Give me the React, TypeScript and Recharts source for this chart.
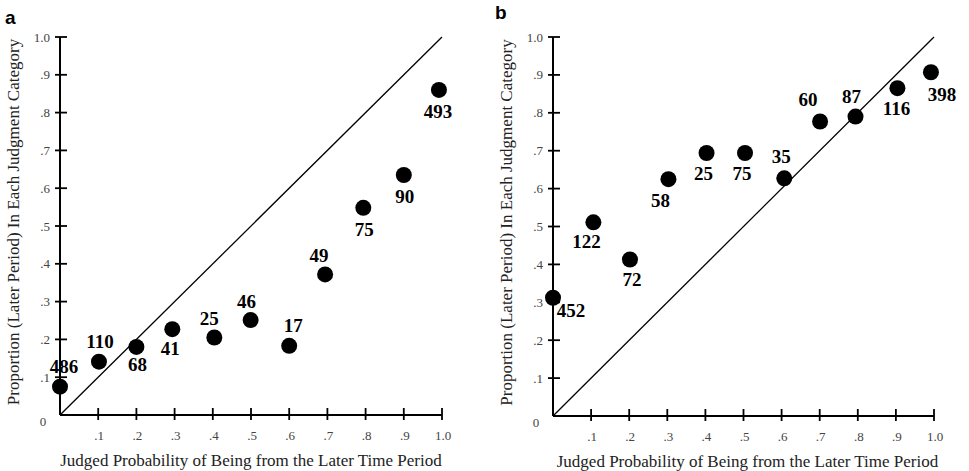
import { ScatterChart, Scatter, XAxis, YAxis, ReferenceLine, Label } from 'recharts';

// panel a
const leftX = [0, 0.102, 0.2, 0.294, 0.404, 0.499, 0.6, 0.694, 0.794, 0.9, 0.992];
const leftY = [0.075, 0.141, 0.18, 0.227, 0.205, 0.251, 0.183, 0.372, 0.548, 0.635, 0.86];
const leftN = [486, 110, 68, 41, 25, 46, 17, 49, 75, 90, 493];

// panel b
const rightX = [0, 0.106, 0.202, 0.303, 0.403, 0.504, 0.607, 0.701, 0.794, 0.904, 0.992];
const rightY = [0.312, 0.511, 0.413, 0.625, 0.694, 0.694, 0.627, 0.777, 0.79, 0.865, 0.907];
const rightN = [452, 122, 72, 58, 25, 75, 35, 60, 87, 116, 398];

const xTicks = [0.1, 0.2, 0.3, 0.4, 0.5, 0.6, 0.7, 0.8, 0.9, 1.0];
const yTicks = [0, 0.1, 0.2, 0.3, 0.4, 0.5, 0.6, 0.7, 0.8, 0.9, 1.0];

const xTitle = 'Judged Probability of Being from the Later Time Period';
const yTitle = 'Proportion (Later Period) In Each Judgment Category';

// where each count label sits relative to its dot
const leftLabelOffset = [
  [4, -20], [1, -20], [1, 18], [-2, 19], [-5, -19], [-4, -19],
  [4, -20], [-6, -19], [1, 22], [1, 22], [-1, 22],
];
const rightLabelOffset = [
  [18, 13], [-7, 19], [2, 20], [-8, 21], [-3, 21], [-3, 21],
  [-3, -22], [-12, -22], [-4, -20], [-1, 20], [11, 22],
];

const serif = '"Liberation Serif", "DejaVu Serif", serif';

const fmt = (v: number) => (v === 0 ? '0' : v === 1 ? '1.0' : '.' + Math.round(v * 10));

const XTick = (props: any) => {
  const { x, y, payload } = props;
  return (
    <g>
      <line x1={x} x2={x} y1={y + 5} y2={y - 7} stroke="#000" strokeWidth={1.8} />
      <text x={x + 1} y={y + 20} textAnchor="middle" dominantBaseline="central" fontFamily={serif} fontSize={13} fill="#444">
        {fmt(payload.value)}
      </text>
    </g>
  );
};

const YTick = (props: any) => {
  const { x, y, payload } = props;
  if (payload.value === 0) {
    return (
      <text x={x - 17} y={y + 6} textAnchor="middle" dominantBaseline="central" fontFamily={serif} fontSize={13} fill="#444">
        0
      </text>
    );
  }
  return (
    <g>
      <line x1={x - 5} x2={x + 7} y1={y} y2={y} stroke="#000" strokeWidth={1.8} />
      <text x={x - 10} y={y} textAnchor="end" dominantBaseline="central" fontFamily={serif} fontSize={13} fill="#444">
        {fmt(payload.value)}
      </text>
    </g>
  );
};

const Dot = (props: any) => {
  const { cx, cy, payload } = props;
  return (
    <g>
      <circle cx={cx} cy={cy} r={8} fill="#000" />
      <text
        x={cx + payload.dx}
        y={cy + payload.dy}
        textAnchor="middle"
        dominantBaseline="central"
        fontFamily={serif}
        fontWeight="bold"
        fontSize={19}
        fill="#000"
      >
        {payload.n}
      </text>
    </g>
  );
};

const build = (xs: number[], ys: number[], ns: number[], offs: number[][]) =>
  xs.map((x, i) => ({ x, y: ys[i], n: ns[i], dx: offs[i][0], dy: offs[i][1] }));

type PanelProps = {
  data: ReturnType<typeof build>;
  width: number;
  margin: { top: number; right: number; bottom: number; left: number };
  xTitleShift: number;
};

const Panel = ({ data, width, margin, xTitleShift }: PanelProps) => (
  <ScatterChart width={width} height={471} margin={margin}>
    <XAxis
      type="number"
      dataKey="x"
      domain={[0, 1]}
      ticks={xTicks}
      interval={0}
      height={1}
      tickSize={0}
      tickMargin={0}
      tick={<XTick />}
      axisLine={{ stroke: '#000', strokeWidth: 2 }}
      tickLine={false}
    >
      <Label
        content={(p: any) => {
          const vb = p.viewBox;
          return (
            <text x={vb.x + vb.width / 2 + xTitleShift} y={vb.y + 45} textAnchor="middle" dominantBaseline="central" fontFamily={serif} fontSize={17} fill="#222">
              {xTitle}
            </text>
          );
        }}
      />
    </XAxis>
    <YAxis
      type="number"
      dataKey="y"
      domain={[0, 1]}
      ticks={yTicks}
      interval={0}
      width={1}
      tickSize={0}
      tickMargin={0}
      tick={<YTick />}
      axisLine={{ stroke: '#000', strokeWidth: 2 }}
      tickLine={false}
    >
      <Label
        content={(p: any) => {
          const vb = p.viewBox;
          const cx = vb.x + vb.width - 47;
          const cy = vb.y + vb.height / 2 - 4;
          return (
            <text x={cx} y={cy} transform={`rotate(-90 ${cx} ${cy})`} textAnchor="middle" dominantBaseline="central" fontFamily={serif} fontSize={17} fill="#222">
              {yTitle}
            </text>
          );
        }}
      />
    </YAxis>
    <ReferenceLine segment={[{ x: 0, y: 0 }, { x: 0, y: 1 }]} stroke="#000" strokeWidth={2} />
    <ReferenceLine segment={[{ x: 0, y: 0 }, { x: 1, y: 0 }]} stroke="#000" strokeWidth={2} />
    <ReferenceLine segment={[{ x: 0, y: 0 }, { x: 1, y: 1 }]} stroke="#000" strokeWidth={1.3} />
    <Scatter data={data} shape={<Dot />} isAnimationActive={false} />
  </ScatterChart>
);

const letterStyle: React.CSSProperties = {
  position: 'absolute',
  fontFamily: '"Liberation Sans", Arial, sans-serif',
  fontWeight: 'bold',
  fontSize: 19,
  lineHeight: '19px',
};

export default function App() {
  return (
    <div style={{ position: 'absolute', left: 0, top: 0, width: 969, height: 471, background: '#fff' }}>
      <div style={{ position: 'absolute', left: 0, top: 0 }}>
        <Panel
          data={build(leftX, leftY, leftN, leftLabelOffset)}
          width={485}
          margin={{ top: 37, right: 43, bottom: 55, left: 59 }}
          xTitleShift={0}
        />
      </div>
      <div style={{ position: 'absolute', left: 485, top: 0 }}>
        <Panel
          data={build(rightX, rightY, rightN, rightLabelOffset)}
          width={484}
          margin={{ top: 37, right: 35, bottom: 54, left: 67 }}
          xTitleShift={4}
        />
      </div>
      <div style={{ ...letterStyle, left: 5, top: 8 }}>a</div>
      <div style={{ ...letterStyle, left: 495, top: 3 }}>b</div>
    </div>
  );
}
